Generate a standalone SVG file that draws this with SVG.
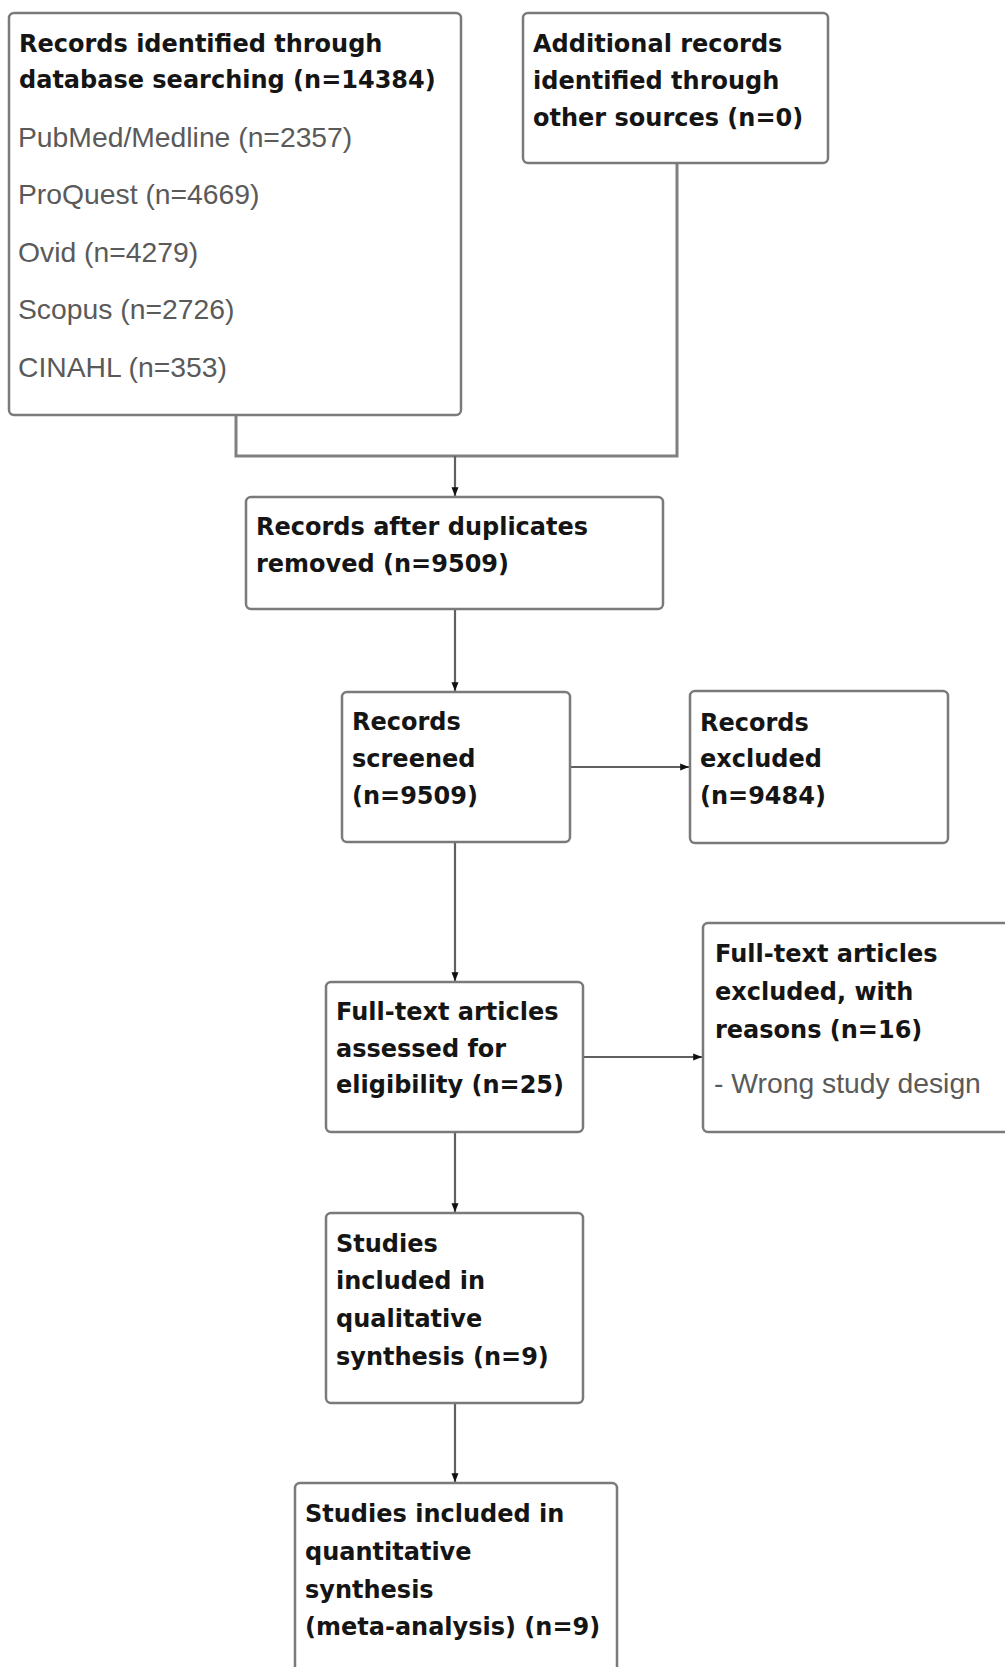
<svg xmlns="http://www.w3.org/2000/svg" width="1005" height="1667" viewBox="0 0 1005 1667">
<style>
.box{fill:#fff;stroke:#7a7a7a;stroke-width:2.5}
.b{font-family:"DejaVu Sans",Verdana,sans-serif;font-weight:bold;font-size:24px;fill:#151515}
.g{font-family:"Liberation Sans",Arial,sans-serif;font-size:28.3px;fill:#5a5a5a}
.conn{fill:none;stroke:#808080;stroke-width:3}
.arr{fill:none;stroke:#606060;stroke-width:2.2;marker-end:url(#ah)}
</style>
<defs>
<marker id="ah" viewBox="0 0 10 10" refX="10" refY="5" markerWidth="4" markerHeight="4" orient="auto" markerUnits="strokeWidth">
<path d="M0,1 L10,5 L0,9 z" fill="#111"/>
</marker>
</defs>
<rect width="1005" height="1667" fill="#fff"/>
<g id="connectors">
<polyline class="conn" points="236,415 236,456 677,456 677,163"/>
<line class="arr" x1="455" y1="456" x2="455" y2="496"/>
<line class="arr" x1="455" y1="609" x2="455" y2="691"/>
<line class="arr" x1="570" y1="767" x2="689" y2="767"/>
<line class="arr" x1="455" y1="842" x2="455" y2="981"/>
<line class="arr" x1="583" y1="1057" x2="702" y2="1057"/>
<line class="arr" x1="455" y1="1132" x2="455" y2="1212"/>
<line class="arr" x1="455" y1="1403" x2="455" y2="1482"/>
</g>
<g id="n1">
<rect class="box" x="9" y="13" width="452" height="402" rx="5"/>
<text class="b" x="19" y="52">Records identified through</text>
<text class="b" x="19" y="88">database searching (n=14384)</text>
<text class="g" x="18" y="147">PubMed/Medline (n=2357)</text>
<text class="g" x="18" y="204">ProQuest (n=4669)</text>
<text class="g" x="18" y="262">Ovid (n=4279)</text>
<text class="g" x="18" y="319">Scopus (n=2726)</text>
<text class="g" x="18" y="377">CINAHL (n=353)</text>
</g>
<g id="n2">
<rect class="box" x="523" y="13" width="305" height="150" rx="5"/>
<text class="b" x="533" y="52">Additional records</text>
<text class="b" x="533" y="89">identified through</text>
<text class="b" x="533" y="126">other sources (n=0)</text>
</g>
<g id="n3">
<rect class="box" x="246" y="497" width="417" height="112" rx="5"/>
<text class="b" x="256" y="535">Records after duplicates</text>
<text class="b" x="256" y="572">removed (n=9509)</text>
</g>
<g id="n4">
<rect class="box" x="342" y="692" width="228" height="150" rx="5"/>
<text class="b" x="352" y="730">Records</text>
<text class="b" x="352" y="767">screened</text>
<text class="b" x="352" y="804">(n=9509)</text>
</g>
<g id="n5">
<rect class="box" x="690" y="691" width="258" height="152" rx="5"/>
<text class="b" x="700" y="731">Records</text>
<text class="b" x="700" y="767">excluded</text>
<text class="b" x="700" y="804">(n=9484)</text>
</g>
<g id="n6">
<rect class="box" x="326" y="982" width="257" height="150" rx="5"/>
<text class="b" x="336" y="1020">Full-text articles</text>
<text class="b" x="336" y="1057">assessed for</text>
<text class="b" x="336" y="1093">eligibility (n=25)</text>
</g>
<g id="n7">
<rect class="box" x="703" y="923" width="330" height="209" rx="5"/>
<text class="b" x="715" y="962">Full-text articles</text>
<text class="b" x="715" y="1000">excluded, with</text>
<text class="b" x="715" y="1038">reasons (n=16)</text>
<text class="g" x="714" y="1093">- Wrong study design</text>
</g>
<g id="n8">
<rect class="box" x="326" y="1213" width="257" height="190" rx="5"/>
<text class="b" x="336" y="1252">Studies</text>
<text class="b" x="336" y="1289">included in</text>
<text class="b" x="336" y="1327">qualitative</text>
<text class="b" x="336" y="1365">synthesis (n=9)</text>
</g>
<g id="n9">
<rect class="box" x="295" y="1483" width="322" height="230" rx="5"/>
<text class="b" x="305" y="1522">Studies included in</text>
<text class="b" x="305" y="1560">quantitative</text>
<text class="b" x="305" y="1598">synthesis</text>
<text class="b" x="305" y="1635">(meta-analysis) (n=9)</text>
</g>
</svg>
